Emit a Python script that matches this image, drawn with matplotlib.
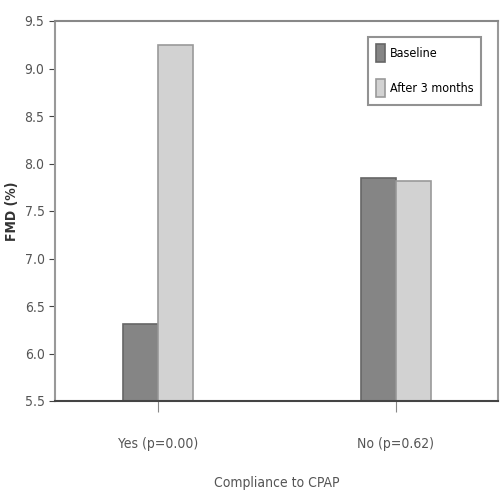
import matplotlib
matplotlib.use('Agg')
import matplotlib.pyplot as plt
import numpy as np

groups = ['Yes (p=0.00)', 'No (p=0.62)']
baseline = [6.31, 7.85]
after_3m = [9.25, 7.82]
yticks = [5.5, 6.0, 6.5, 7.0, 7.5, 8.0, 8.5, 9.0, 9.5]

plt.rcParams['font.family'] = ['DejaVu Sans']
plt.rcParams['font.stretch'] = 'condensed'

fig = plt.figure(figsize=(5, 5), dpi=100)
ax = fig.add_axes([0.11, 0.198, 0.886, 0.76])

x = np.arange(len(groups))
w = 0.148
ax.bar(x - w / 2, baseline, w, bottom=0, color='#858585', edgecolor='#666666',
       linewidth=1.2, label='Baseline')
ax.bar(x + w / 2, after_3m, w, bottom=0, color='#d2d2d2', edgecolor='#9a9a9a',
       linewidth=1.2, label='After 3 months')

ax.set_ylim(5.5, 9.5)
ax.set_xlim(-0.435, 1.43)
ax.set_yticks(yticks)
ax.set_yticklabels([f'{v:.1f}' for v in yticks], fontsize=10, color='#555555')
ax.set_xticks(x)
ax.set_xticklabels(groups, fontsize=10, color='#555555')
ax.tick_params(axis='x', length=8, color='#888888', pad=18)
ax.tick_params(axis='y', length=4, color='#444444')

for s in ['left', 'right', 'top']:
    ax.spines[s].set_color('#999999')
    ax.spines[s].set_linewidth(1.5)
ax.spines['top'].set_color('#888888')
ax.spines['bottom'].set_color('#444444')
ax.spines['bottom'].set_linewidth(1.5)

ax.set_ylabel('FMD (%)', fontsize=10, fontweight='bold', color='#333333',
              labelpad=4)
ax.set_xlabel('Compliance to CPAP', fontsize=10, color='#555555', labelpad=18)

leg = ax.legend(loc='upper right', bbox_to_anchor=(0.975, 0.975), fontsize=9,
                frameon=True, fancybox=False, handlelength=0.7, handleheight=1.8,
                handletextpad=0.4, borderpad=0.6, labelspacing=1.4)
leg.get_frame().set_edgecolor('#777777')
leg.get_frame().set_linewidth(1.5)

fig.savefig('out.png', dpi=100)
